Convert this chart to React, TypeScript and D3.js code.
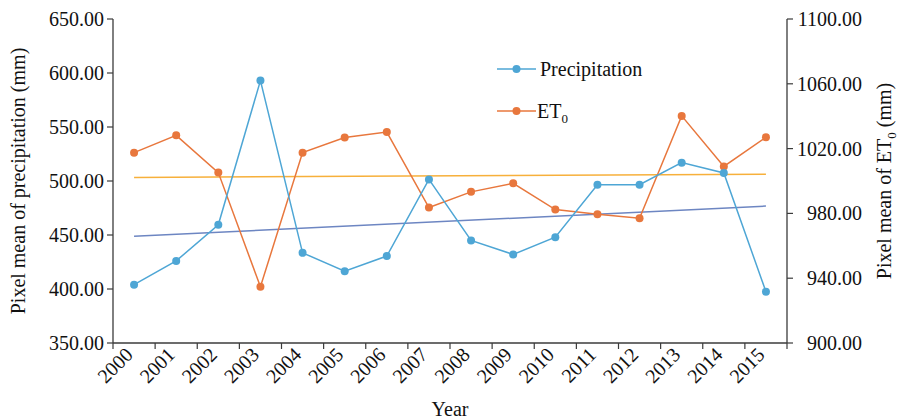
import React from "react";
import * as d3 from "d3";

const years = ["2000", "2001", "2002", "2003", "2004", "2005", "2006", "2007", "2008", "2009", "2010", "2011", "2012", "2013", "2014", "2015"];
const precipitation = [404, 426, 459.5, 593, 433.5, 416.5, 430.5, 501.5, 445, 432, 448, 496.5, 496.5, 517, 507.5, 397.5];
const et0 = [1017.5, 1028.2, 1005.2, 934.7, 1017.5, 1026.9, 1030.2, 983.6, 993.3, 998.6, 982.4, 979.5, 977, 1040.2, 1009, 1027];
const leftTicks = [350, 400, 450, 500, 550, 600, 650];
const rightTicks = [900, 940, 980, 1020, 1060, 1100];

const W = 898;
const H = 419;
const left = 113;
const right = 787;
const top = 19;
const bottom = 343;

const font = "'Liberation Serif', 'Times New Roman', serif";
const axisColor = "#3b3b3b";
const blue = "#4ea6d5";
const orange = "#e8773d";
const blueTrend = "#6d86c2";
const orangeTrend = "#f7b03b";

// least squares fit over year index
function trend(vals: number[]) {
  const n = vals.length;
  const mx = (n - 1) / 2;
  const my = d3.mean(vals) as number;
  let sxy = 0;
  let sxx = 0;
  vals.forEach((v, i) => {
    sxy += (i - mx) * (v - my);
    sxx += (i - mx) * (i - mx);
  });
  const b = sxy / sxx;
  return [my - b * mx, my + b * (n - 1 - mx)];
}

const App = () => {
  const x = d3.scaleBand<string>().domain(years).range([left, right]).padding(0);
  const cx = (yr: string) => (x(yr) as number) + x.bandwidth() / 2;
  const yL = d3.scaleLinear().domain([350, 650]).range([bottom, top]);
  const yR = d3.scaleLinear().domain([900, 1100]).range([bottom, top]);
  const fmt = d3.format(".2f");

  const pLine = d3.line<number>().x((_, i) => cx(years[i])).y((v) => yL(v));
  const eLine = d3.line<number>().x((_, i) => cx(years[i])).y((v) => yR(v));

  const pt = trend(precipitation);
  const et = trend(et0);
  const first = cx(years[0]);
  const last = cx(years[years.length - 1]);

  const boundaries = years.map((yr) => x(yr) as number).concat([right]);

  return (
    <svg width={W} height={H} style={{ position: "absolute", left: 0, top: 0 }} fontFamily={font}>
      <rect width={W} height={H} fill="#fff" />

      {/* axes */}
      <line x1={left} x2={left} y1={top} y2={bottom} stroke={axisColor} strokeWidth={1.3} />
      <line x1={right} x2={right} y1={top} y2={bottom} stroke={axisColor} strokeWidth={1.3} />
      <line x1={left} x2={right} y1={bottom} y2={bottom} stroke={axisColor} strokeWidth={1.3} />

      {leftTicks.map((t) => (
        <g key={"l" + t}>
          <line x1={left - 6} x2={left} y1={yL(t)} y2={yL(t)} stroke={axisColor} strokeWidth={1.2} />
          <text x={left - 9} y={yL(t)} dy="0.35em" textAnchor="end" fontSize={20} fill="#111">
            {fmt(t)}
          </text>
        </g>
      ))}
      {rightTicks.map((t) => (
        <g key={"r" + t}>
          <line x1={right} x2={right + 6} y1={yR(t)} y2={yR(t)} stroke={axisColor} strokeWidth={1.2} />
          <text x={862} y={yR(t)} dy="0.35em" textAnchor="end" fontSize={20} fill="#111">
            {fmt(t)}
          </text>
        </g>
      ))}
      {boundaries.map((b, i) => (
        <line key={"b" + i} x1={b} x2={b} y1={bottom} y2={bottom + 6} stroke={axisColor} strokeWidth={1.2} />
      ))}
      {years.map((yr) => (
        <text
          key={"x" + yr}
          transform={`translate(${cx(yr)},${bottom + 13}) rotate(-45)`}
          textAnchor="end"
          fontSize={20}
          fill="#111"
        >
          {yr}
        </text>
      ))}

      <text x={(left + right) / 2} y={416} textAnchor="middle" fontSize={20} fill="#111">
        Year
      </text>
      <text
        transform={`translate(25,${(top + bottom) / 2}) rotate(-90)`}
        textAnchor="middle"
        fontSize={20}
        fill="#111"
      >
        Pixel mean of precipitation (mm)
      </text>
      <text
        transform={`translate(891,${(top + bottom) / 2}) rotate(-90)`}
        textAnchor="middle"
        fontSize={20}
        fill="#111"
      >
        Pixel mean of ET<tspan fontSize={13} dy={5}>0</tspan>
        <tspan dy={-5}> (mm)</tspan>
      </text>

      {/* trend lines */}
      <line x1={first} x2={last} y1={yL(pt[0])} y2={yL(pt[1])} stroke={blueTrend} strokeWidth={1.5} />
      <line x1={first} x2={last} y1={yR(et[0])} y2={yR(et[1])} stroke={orangeTrend} strokeWidth={1.5} />

      {/* series */}
      <path d={eLine(et0) as string} fill="none" stroke={orange} strokeWidth={1.5} />
      {et0.map((v, i) => (
        <circle key={"e" + i} cx={cx(years[i])} cy={yR(v)} r={4} fill={orange} />
      ))}
      <path d={pLine(precipitation) as string} fill="none" stroke={blue} strokeWidth={1.5} />
      {precipitation.map((v, i) => (
        <circle key={"p" + i} cx={cx(years[i])} cy={yL(v)} r={4} fill={blue} />
      ))}

      {/* legend */}
      <line x1={497} x2={536} y1={69} y2={69} stroke={blue} strokeWidth={1.5} />
      <circle cx={516.5} cy={69} r={4} fill={blue} />
      <text x={540} y={69} dy="0.35em" fontSize={20} fill="#111">
        Precipitation
      </text>
      <line x1={497} x2={536} y1={111} y2={111} stroke={orange} strokeWidth={1.5} />
      <circle cx={516.5} cy={111} r={4} fill={orange} />
      <text x={537} y={111} dy="0.35em" fontSize={20} fill="#111">
        ET<tspan fontSize={13} dy={5}>0</tspan>
      </text>
    </svg>
  );
};

export default App;
